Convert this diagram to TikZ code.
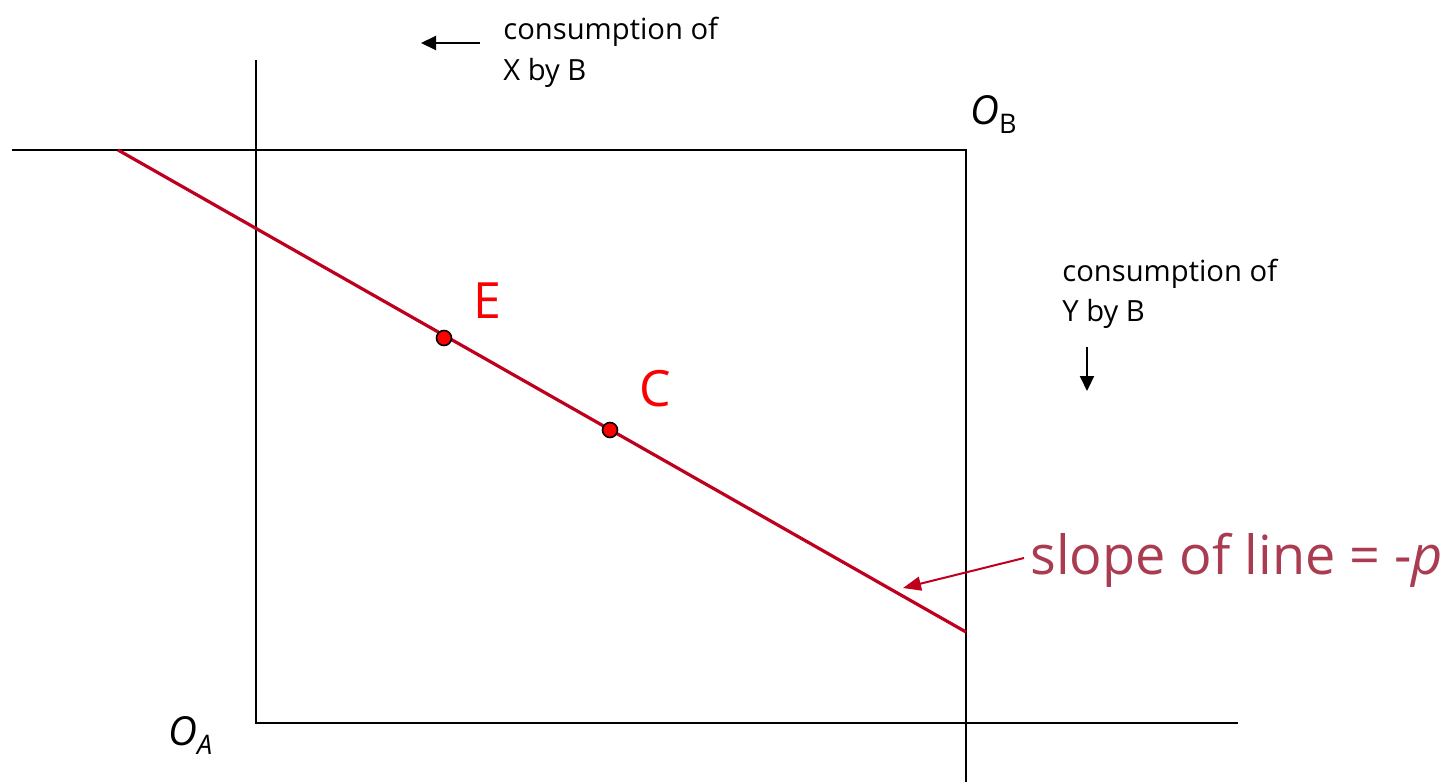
\documentclass[tikz,border=0pt]{standalone}
\usepackage{fontspec}
\setmainfont{Open Sans}
\usetikzlibrary{arrows.meta}
\definecolor{linered}{RGB}{190,0,30}
\definecolor{ptred}{RGB}{250,0,0}
\definecolor{slopecol}{RGB}{170,60,82}
\tikzset{
  axis/.style={black, line width=1pt},
  budget/.style={linered, line width=1.6pt},
  dot/.style={circle, fill=red, draw=black, line width=0.8pt, inner sep=0pt, minimum size=7.5pt},
  lbl/.style={inner sep=0pt, font=\fontsize{14.6}{14.6}\selectfont},
  ptlbl/.style={inner sep=0pt, text=ptred, font=\fontsize{25}{25}\selectfont},
  blackarrow/.style={black, line width=1pt, -{Triangle[length=7.5pt, width=7pt]}},
}
\begin{document}
\begin{tikzpicture}[x=0.5pt, y=-0.5pt]
\useasboundingbox (0,0) rectangle (1451,782);
% axes
\coordinate (OAtop) at (256,60);
\coordinate (OA) at (256,723);
\coordinate (OAright) at (1238,723);
\coordinate (OBleft) at (12,150);
\coordinate (OB) at (966,150);
\coordinate (OBbottom) at (966,782);
\draw[axis] (OAtop) -- (OA) -- (OAright);
\draw[axis] (OBleft) -- (OB) -- (OBbottom);
% budget line
\coordinate (L1) at (118,150);
\coordinate (L2) at (966,632);
\draw[budget] (L1) -- (L2);
\node[dot] (E) at (444,338) {};
\node[dot] (C) at (610,430) {};
\node[ptlbl] (Elbl) at (487,301) {E};
\node[ptlbl] (Clbl) at (655,389) {C};
% origins
\node[inner sep=0pt, anchor=base west, font=\fontsize{20}{20}\selectfont] (OAlbl) at (168,745) {\textit{O}\raisebox{-0.45ex}{\fontsize{13.5}{13.5}\selectfont\textit{A}}};
\node[inner sep=0pt, anchor=base west, font=\fontsize{20}{20}\selectfont] (OBlbl) at (970,124) {\textit{O}\raisebox{-0.45ex}{\fontsize{13.5}{13.5}\selectfont B}};
% consumption of X by B
\node[lbl, anchor=base west] (xb1) at (503,39) {consumption of};
\node[lbl, anchor=base west] (xb2) at (503,80) {X by B};
\coordinate (xa1) at (480,43);
\coordinate (xa2) at (421,43);
\draw[blackarrow] (xa1) -- (xa2);
% consumption of Y by B
\node[lbl, anchor=base west] (yb1) at (1062,281) {consumption of};
\node[lbl, anchor=base west] (yb2) at (1062,321) {Y by B};
\coordinate (ya1) at (1087,347);
\coordinate (ya2) at (1087,391);
\draw[blackarrow] (ya1) -- (ya2);
% slope label
\node[inner sep=0pt, anchor=base west, text=slopecol, font=\fontsize{27}{27}\selectfont] (slope) at (1030,574) {slope of line = -\textit{p}};
\coordinate (sa1) at (1024,558);
\coordinate (sa2) at (903,588);
\draw[linered, line width=1pt, -{Triangle[length=9pt, width=7pt]}] (sa1) -- (sa2);
\end{tikzpicture}
\end{document}
